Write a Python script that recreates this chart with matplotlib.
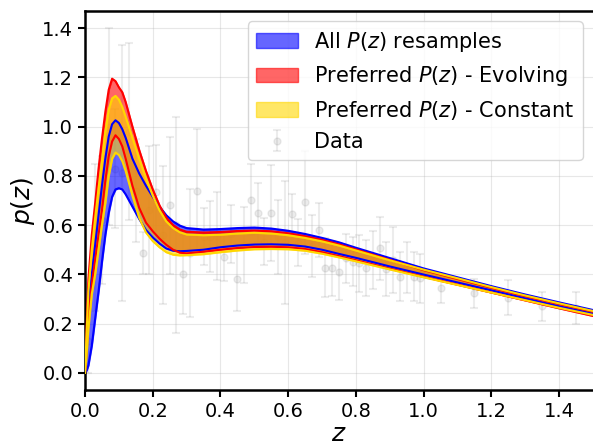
import numpy as np
import matplotlib
matplotlib.use("Agg")
import matplotlib.pyplot as plt

# redshift grid for the P(z) envelopes
z_grid = [0.00, 0.005, 0.01, 0.02, 0.03, 0.04, 0.05, 0.06, 0.07, 0.08,
          0.09, 0.10, 0.11, 0.12, 0.14, 0.16, 0.18, 0.20, 0.22, 0.24,
          0.26, 0.28, 0.30, 0.35, 0.40, 0.45, 0.50, 0.55, 0.60, 0.65,
          0.70, 0.75, 0.80, 0.90, 1.00, 1.10, 1.20, 1.30, 1.40, 1.50]

# all resamples (blue)
blue_hi = [0.0, 0.12, 0.28, 0.40, 0.52, 0.64, 0.76, 0.87, 0.96, 1.01,
           1.026, 1.015, 0.99, 0.955, 0.87, 0.81, 0.76, 0.715, 0.675, 0.64,
           0.615, 0.598, 0.588, 0.582, 0.584, 0.588, 0.59, 0.586, 0.577, 0.564,
           0.548, 0.53, 0.508, 0.466, 0.424, 0.388, 0.352, 0.318, 0.286, 0.255]
blue_lo = [0.0, 0.01, 0.03, 0.11, 0.22, 0.33, 0.45, 0.56, 0.65, 0.715,
           0.745, 0.75, 0.745, 0.725, 0.675, 0.625, 0.58, 0.55, 0.525, 0.505,
           0.496, 0.494, 0.495, 0.50, 0.51, 0.517, 0.521, 0.522, 0.52, 0.513,
           0.50, 0.483, 0.467, 0.432, 0.399, 0.367, 0.335, 0.302, 0.27, 0.24]

# preferred, evolving (red)
red_hi = [0.0, 0.20, 0.38, 0.56, 0.69, 0.83, 0.95, 1.06, 1.15, 1.195,
          1.185, 1.16, 1.14, 1.10, 1.00, 0.905, 0.82, 0.745, 0.68, 0.63,
          0.60, 0.582, 0.573, 0.57, 0.572, 0.576, 0.578, 0.575, 0.567, 0.555,
          0.54, 0.522, 0.501, 0.459, 0.417, 0.381, 0.345, 0.311, 0.279, 0.248]
red_lo = [0.0, 0.10, 0.22, 0.36, 0.46, 0.56, 0.66, 0.78, 0.88, 0.94,
          0.965, 0.95, 0.92, 0.87, 0.76, 0.67, 0.61, 0.575, 0.545, 0.52,
          0.50, 0.488, 0.485, 0.492, 0.50, 0.507, 0.511, 0.512, 0.51, 0.503,
          0.49, 0.474, 0.457, 0.423, 0.39, 0.358, 0.326, 0.294, 0.262, 0.231]

# preferred, constant (gold)
gold_hi = [0.0, 0.17, 0.33, 0.50, 0.63, 0.75, 0.86, 0.98, 1.07, 1.115,
           1.125, 1.11, 1.08, 1.04, 0.955, 0.87, 0.79, 0.72, 0.66, 0.615,
           0.588, 0.571, 0.562, 0.559, 0.561, 0.566, 0.569, 0.566, 0.559, 0.548,
           0.534, 0.517, 0.497, 0.457, 0.419, 0.384, 0.348, 0.314, 0.282, 0.251]
gold_lo = [0.0, 0.08, 0.18, 0.32, 0.40, 0.50, 0.60, 0.69, 0.80, 0.87,
           0.895, 0.885, 0.86, 0.82, 0.72, 0.63, 0.57, 0.535, 0.51, 0.49,
           0.48, 0.477, 0.478, 0.482, 0.49, 0.497, 0.502, 0.503, 0.502, 0.496,
           0.484, 0.469, 0.453, 0.42, 0.388, 0.357, 0.326, 0.295, 0.264, 0.235]

# binned data with errors
data_z = [0.01, 0.03, 0.05, 0.07, 0.09, 0.11, 0.13, 0.15, 0.17, 0.19,
          0.21, 0.23, 0.25, 0.27, 0.29, 0.31, 0.33, 0.35, 0.37, 0.39,
          0.41, 0.43, 0.45, 0.47, 0.49, 0.51, 0.53, 0.55, 0.57, 0.59,
          0.61, 0.63, 0.65, 0.67, 0.69, 0.71, 0.73, 0.75, 0.77, 0.79,
          0.81, 0.83, 0.85, 0.87, 0.89, 0.91, 0.93, 0.95, 0.97, 0.99,
          1.05, 1.15, 1.25, 1.35, 1.45]
data_p = [0.13, 0.55, 0.62, 1.00, 0.83, 0.81, 0.98, 0.74, 0.485, 0.66,
          0.735, 0.56, 0.68, 0.60, 0.40, 0.485, 0.74, 0.553, 0.553, 0.556,
          0.472, 0.563, 0.38, 0.52, 0.704, 0.651, 0.533, 0.651, 0.553, 0.53,
          0.647, 0.528, 0.692, 0.515, 0.58, 0.427, 0.425, 0.41, 0.465, 0.452,
          0.445, 0.425, 0.46, 0.505, 0.42, 0.458, 0.39, 0.428, 0.39, 0.384,
          0.343, 0.323, 0.305, 0.27, 0.265]
data_err = [0.13, 0.30, 0.26, 0.40, 0.24, 0.52, 0.36, 0.21, 0.085, 0.26,
            0.19, 0.28, 0.28, 0.44, 0.16, 0.26, 0.25, 0.115, 0.145, 0.18,
            0.10, 0.118, 0.13, 0.155, 0.145, 0.12, 0.095, 0.195, 0.15, 0.25,
            0.08, 0.096, 0.21, 0.125, 0.108, 0.12, 0.112, 0.116, 0.10, 0.10,
            0.115, 0.115, 0.118, 0.128, 0.11, 0.135, 0.10, 0.105, 0.10, 0.10,
            0.06, 0.06, 0.07, 0.06, 0.065]

fig = plt.figure(figsize=(5.93, 4.47), dpi=100)
ax = fig.add_axes([85 / 593, 57 / 447, 508 / 593, 379 / 447])

ax.errorbar(data_z, data_p, yerr=data_err, fmt='o', color='grey', alpha=0.15,
            ms=5, capsize=3, elinewidth=1.5, capthick=1.5, label='Data', zorder=1)

ax.fill_between(z_grid, blue_lo, blue_hi, color='blue', alpha=0.6,
                label=r'All $P(z)$ resamples', zorder=2)
ax.fill_between(z_grid, red_lo, red_hi, color='red', alpha=0.6,
                label=r'Preferred $P(z)$ - Evolving', zorder=2)
ax.fill_between(z_grid, gold_lo, gold_hi, color='gold', alpha=0.6,
                label=r'Preferred $P(z)$ - Constant', zorder=2)

for lo, hi, c in [(blue_lo, blue_hi, 'blue'), (red_lo, red_hi, 'red'),
                  (gold_lo, gold_hi, 'gold')]:
    ax.plot(z_grid, lo, color=c, lw=1.5, zorder=3)
    ax.plot(z_grid, hi, color=c, lw=1.5, zorder=3)

ax.set_xlim(0, 1.5)
ax.set_ylim(-0.07, 1.47)
ax.set_xticks([0.0, 0.2, 0.4, 0.6, 0.8, 1.0, 1.2, 1.4])
ax.set_yticks([0.0, 0.2, 0.4, 0.6, 0.8, 1.0, 1.2, 1.4])
ax.grid(alpha=0.3)
ax.tick_params(labelsize=14, width=1.5, length=5)
for s in ['left', 'bottom', 'top']:
    ax.spines[s].set_linewidth(1.8)
ax.spines['right'].set_visible(False)

ax.set_xlabel(r'$z$', fontsize=18, labelpad=1)
ax.set_ylabel(r'$p(z)$', fontsize=18)
ax.legend(loc='upper right', fontsize=15)

fig.savefig('out.png', dpi=100)
